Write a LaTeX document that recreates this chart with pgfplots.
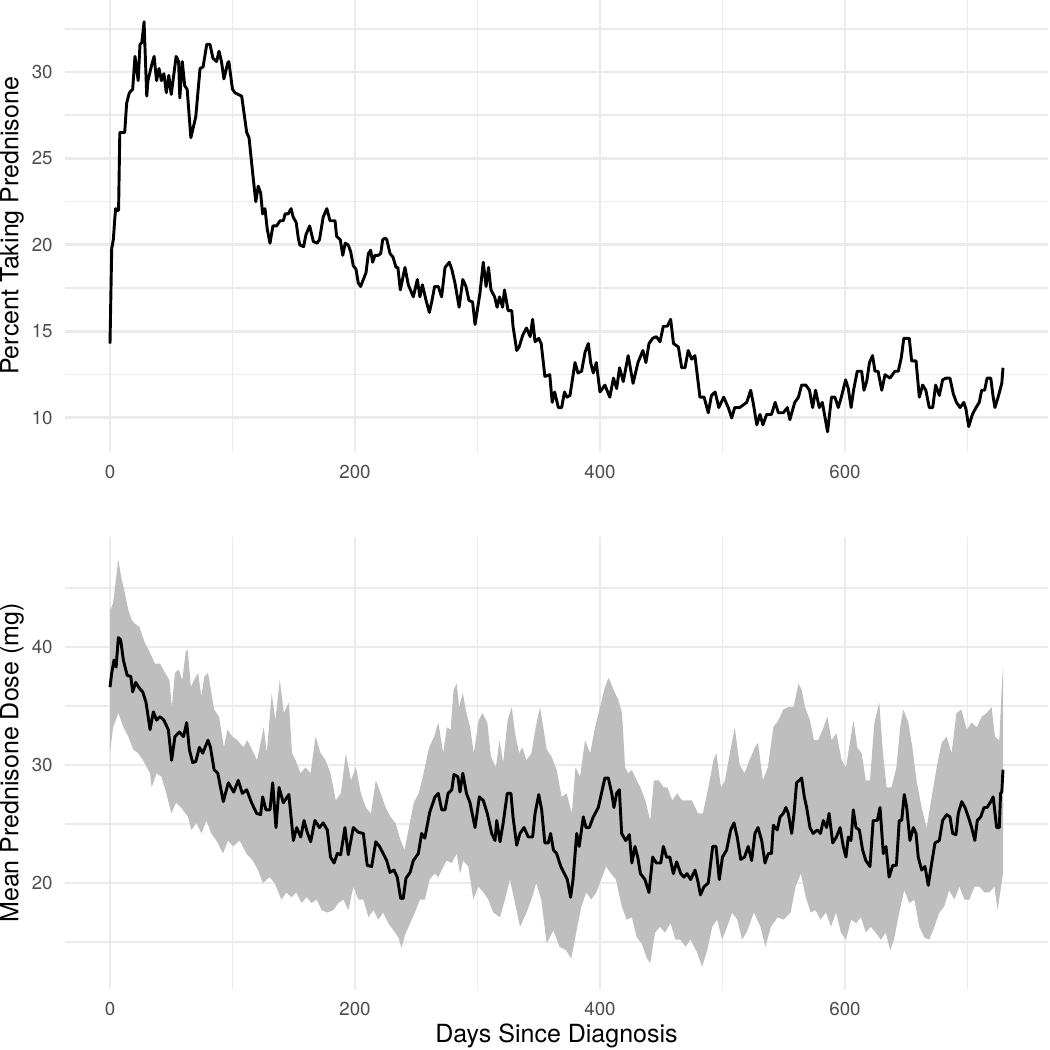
\documentclass[border=0pt]{standalone}
\usepackage{fontspec}
\setmainfont{TeX Gyre Heros}
\usepackage{pgfplots}
\pgfplotsset{compat=1.18}
\definecolor{gridc}{RGB}{235,235,235}
\definecolor{ticklab}{RGB}{77,77,77}
\definecolor{ribbon}{RGB}{190,190,190}

\pgfplotsset{
  panel/.style={
    scale only axis, width=471.5pt, height=216.96pt,
    xmin=-36.45, xmax=765.45,
    axis line style={draw=none}, major tick length=0pt, minor tick length=0pt,
    tick style={draw=none},
    xtick={0,200,400,600}, minor xtick={100,300,500,700},
    grid=both,
    major grid style={draw=gridc, line width=1.4pt},
    minor grid style={draw=gridc, line width=0.75pt},
    tick label style={font=\fontsize{9}{10}\selectfont, text=ticklab},
    /pgf/number format/assume math mode=true,
    /pgf/number format/1000 sep={},
    xticklabel style={anchor=center, yshift=-9.6pt, inner sep=0pt},
    yticklabel style={anchor=east, xshift=-5.9pt, inner sep=0pt},
    every axis y label/.style={at={(axis description cs:-0.0543,0.5)}, rotate=90, anchor=center, font=\fontsize{12}{14}\selectfont},
    every axis x label/.style={at={(axis description cs:0.5,-0.104)}, anchor=center, font=\fontsize{12}{14}\selectfont},
  }
}

\begin{document}
\begin{tikzpicture}

\begin{axis}[panel, at={(31.37pt,0pt)}, anchor=north west,
  ymin=8.03, ymax=34.16,
  ytick={10,15,20,25,30}, minor ytick={12.5,17.5,22.5,27.5,32.5},
  ylabel={Percent Taking Prednisone}]
\addplot[black, line width=1.4pt, line join=round] table {
0 14.3
1.4 19.8
2.7 20.3
4 21.6
4.6 22.1
6 22.0
7 22.0
8 26.5
12 26.5
13.6 28.2
15.8 28.8
18.5 29.0
20.4 30.9
23 29.5
24.5 31.6
26 31.7
27.8 32.9
30 28.6
31 29.5
34 30.4
36 30.9
38 29.5
40 30.2
42 29.5
44 29.9
46 28.8
48 29.8
50 28.7
54 30.9
56 30.6
57 28.5
59 30.6
61 29.2
63 29.0
66 26.2
70 27.4
72 29.0
73.5 30.2
76 30.3
79 31.6
81.6 31.6
84 30.8
87 30.6
89 31.2
91 30.6
93 29.6
96 30.5
97 30.6
100 29.0
102 28.8
107.5 28.6
111.6 26.5
113.5 26.2
117 23.8
119 22.5
121 23.4
123 23.0
124.6 21.8
126.5 22.1
128.4 20.9
130.6 20.1
133 21.1
136 21.1
138.8 21.4
141.5 21.4
143 21.8
145.5 21.8
147.8 22.1
149.6 21.6
152 21.3
153.7 20.4
155 20.0
158 19.9
160 20.6
163 21.1
166 20.2
169 20.1
171 20.3
174 21.6
177 22.1
179.6 21.4
183.7 21.4
185 20.5
188 20.3
190 19.4
192 20.1
194.5 20.0
196.5 19.6
198.6 18.8
200.8 18.6
202.7 17.8
204.6 17.6
206.8 18.0
209 18.4
210.9 19.5
212.8 19.7
214.4 19.0
216.3 19.4
219 19.4
221 19.5
222.6 20.3
224.5 20.4
226 20.3
228.6 19.5
231 19.3
233.5 18.7
235 18.7
237 17.4
240.8 18.7
243.5 17.7
247.6 17.0
250.9 18.0
253 17.0
255 17.7
258 16.8
260.7 16.1
262.6 16.7
265 17.6
268 17.6
270.7 17.0
273.5 18.7
277 19.0
279 18.6
281.6 17.8
285 16.4
288 18.0
290.6 17.6
293 16.8
296 16.7
298 15.4
302 17.2
304.7 19.0
307 17.6
309 18.7
311 17.4
314 17.0
316 16.4
318 17.0
320.5 16.4
322 17.4
325 16.2
328 16.2
329 15.3
332 13.9
334 14.1
337 14.8
340 15.2
343 14.7
345 15.7
347 14.4
350 14.6
352 14.3
355 12.4
359 12.5
361 10.9
363 11.5
366 10.6
368.7 10.6
371 11.5
373 11.2
375.5 11.3
379.6 13.2
382 12.6
385 12.7
387.8 13.8
390.5 14.3
392.4 13.2
394.5 12.6
397 13.2
400 11.5
404 11.9
408 11.2
411 12.3
413.6 11.7
416 12.9
419 12.1
423 13.6
427 12.0
431 13.2
435 13.9
437.5 13.2
440 14.3
443 14.6
446 14.7
449 14.4
451.7 15.3
455 15.3
457.7 15.7
460 14.3
464 14.1
466.7 12.9
469.4 12.9
472 13.9
474.8 13.4
477.5 13.6
481.6 11.2
485 11.2
488.4 10.3
491 11.3
494 11.5
497 10.6
501 11.2
504.7 10.6
507.5 10.0
510 10.6
514 10.6
519.8 10.9
523 11.6
525 10.9
528 9.6
530.6 10.2
533 9.6
536 10.2
540 10.2
543 10.9
545.6 10.3
549.6 10.3
553 10.6
555 9.9
559 10.9
562 11.2
564.6 11.9
568 11.9
571 11.6
573.6 10.6
576 11.6
579 10.6
581.5 10.9
585.8 9.2
589 11.2
591.8 11.2
594.5 10.6
597 11.2
600.5 12.2
602.7 11.7
605 10.6
607 11.6
610 12.7
613.6 12.7
615.5 11.6
617.7 12.1
620 13.2
622.5 13.6
624.5 12.7
627 12.7
630 11.6
632.7 12.5
636.7 12.3
640.8 12.7
643.5 12.7
646 13.5
648 14.6
652.5 14.6
654.4 13.3
658 13.3
660.7 11.2
663.4 11.9
666 11.6
668.8 10.6
671.6 10.6
674 11.9
677 11.3
679.7 12.2
682.4 12.3
685.7 12.3
688.4 11.4
691 10.9
694 10.6
697 10.9
698.8 10.5
701 9.5
704 10.2
707 10.6
709.6 10.9
711.6 11.6
714 11.6
716 12.3
719 12.3
721 11.2
722.4 10.6
725 11.2
728 12.0
729 12.9
};
\end{axis}

\begin{axis}[panel, at={(31.37pt,-257.76pt)}, anchor=north west,
  ymin=11.02, ymax=49.32,
  ytick={20,30,40}, minor ytick={15,25,35,45},
  ylabel={Mean Prednisone Dose (mg)},
  xlabel={Days Since Diagnosis}]
% ribbon: upper bound left to right, then lower bound right to left
\addplot[fill=ribbon, draw=none] table {
0 43.1
2.5 43.7
6.8 47.4
9.5 45.7
11 45.1
15 43.1
17.7 42.3
20 42.0
24 41.7
28.6 40.3
32.7 39.5
36.7 38.6
40.8 38.6
45 37.8
48.5 37.2
50.5 34.9
53 37.8
56 38.1
59 37.2
62 39.7
63.5 39.7
66 36.6
68.6 37.2
72 37.8
74.5 35.8
77 37.5
80 37.8
82 36.6
85 34.7
89 34.1
93 31.5
95.8 33.0
100 32.4
104 32.1
109 31.5
112 32.1
116 31.3
120 30.4
124 32.4
125.5 33.2
128 31.0
132 36.1
135 33.8
138.6 37.2
141.9 34.4
146 35.3
148.6 31.0
151.5 30.4
155.6 29.3
159.6 29.8
163.7 29.3
167.8 32.4
172 31.0
176 30.4
180 29.3
184.3 27.0
188.4 27.6
192.5 31.0
196.7 28.7
200.8 29.8
204.8 27.6
208.8 26.4
213 25.9
217 28.7
221 27.6
225 26.4
229 25.6
233 25.1
237.3 23.6
240.5 22.8
244 24.7
248 26.8
252 27.6
256 29.3
260.5 31.5
264.6 32.4
268 33.6
272 31.0
275 33.2
278 33.0
280.5 36.4
283 36.9
285 34.9
288 36.1
291 34.4
294 33.2
297 31.0
301 33.8
304 34.4
308 33.6
311 30.7
315 29.8
318 32.1
321 30.2
324.6 33.8
328 34.9
330.6 32.7
334 31.0
336.6 31.5
340 30.4
344 31.0
347.5 33.2
351 34.9
353.7 33.2
356.5 31.3
360.5 30.7
364.6 29.6
368.7 27.3
372.8 27.6
377 25.9
380 29.8
383.7 29.0
387.8 32.1
392 31.0
396 33.2
400 34.9
404 36.6
407 37.4
411 36.4
415 35.5
418 34.4
420.5 29.8
423 29.3
426 29.6
430 28.7
433 28.1
437 27.0
441 25.3
444 28.7
448 28.7
452 28.1
455 28.1
459 27.0
463 27.6
467 27.0
471 27.0
475 27.0
480 25.9
484 25.9
488.5 28.1
492.6 30.4
495 31.0
498.8 28.1
502 28.7
506 31.0
510 33.2
514 30.0
518 29.3
522 30.4
526.5 31.5
529 31.9
533 28.7
537 29.8
541.5 33.2
545.6 33.8
549.6 34.7
553.7 34.9
558 34.9
562 36.9
564.6 36.4
567.4 34.9
571.4 33.8
574.7 32.1
578 32.1
581.8 33.0
585.6 34.1
589 32.1
593 32.7
597.3 30.4
600.8 29.8
604 31.9
607 33.8
610 31.5
613.6 31.0
617 28.7
620.4 28.7
624 33.6
628 35.3
631 31.0
634 28.1
638 28.1
642 29.8
645 33.2
647.6 34.7
651.7 33.6
655 31.5
658.4 28.7
662.6 26.4
666.6 24.7
670.8 27.3
674.8 29.8
679 31.9
683 32.4
687 31.0
691 34.4
695 34.7
699.4 33.0
703.4 33.6
707.6 33.2
711.6 34.1
715.6 34.4
719.7 34.9
722.4 32.4
726 32.1
728 36.6
729 38.3
729 20.8
727 19.4
724.6 17.7
722 19.7
717.8 19.2
713.8 19.2
709.7 19.7
705.7 19.7
701.6 18.6
697.5 18.6
693.4 19.7
689.3 18.6
685 19.4
681 18.0
677 17.5
673 16.3
668.8 15.2
664.8 15.4
660.7 16.3
656.6 18.6
652.5 18.3
648.4 19.4
644.3 17.5
640 15.2
636.9 14.3
633.3 15.8
629.3 15.2
625 15.8
621 16.3
617 15.8
613 17.1
609 16.6
605 16.9
600.8 15.2
596.7 15.8
592.7 17.5
588.6 16.3
584.5 17.5
580 16.9
576 17.7
572 17.5
568 18.8
564 20.8
559.7 19.7
555.6 17.5
550 16.9
545 17.1
539.6 16.3
535 14.6
531 16.3
525.7 17.5
520 15.9
516 15.2
512 16.9
507.9 17.5
503.8 16.3
499.7 15.2
495.6 16.9
491.6 16.3
487.5 14.3
483.4 12.9
479.3 14.1
473.9 15.2
469.8 14.6
465.7 15.2
461.6 15.2
457.6 16.6
453 15.8
449 16.3
445 15.8
441 13.2
438 13.7
434 14.9
430 15.4
426 17.1
421.8 16.9
417.8 18.0
413 20.3
409 20.8
405 21.4
401 20.3
397 19.2
392.9 18.6
388.8 19.2
384.7 18.0
380.6 15.8
376.5 13.6
372.4 14.3
367 14.6
362 16.0
356.5 14.9
352 18.6
348 20.0
344 18.6
340 17.5
334.7 16.3
330.6 18.3
326.5 20.3
322.4 18.6
318.4 17.1
312.9 17.5
308.8 18.6
304.8 19.2
300.7 19.7
296.6 18.6
292.5 21.4
288.4 21.9
285.7 20.8
283 22.5
279 21.7
274.8 21.9
270.8 21.1
268 20.5
265 20.8
261 20.3
257 18.6
253 18.6
249 17.5
245 16.6
240.8 15.6
238 14.5
235.4 15.4
231.3 16.0
227.2 16.6
223 17.5
219 16.9
215 17.7
211 17.1
206.8 18.6
202.7 18.6
198.7 19.7
194.6 17.7
190.5 18.6
186.4 18.3
182.3 17.7
177.4 17.5
172.8 17.7
168.7 18.6
164.6 18.3
160.5 18.8
156.5 18.3
152 19.2
148 18.8
144 19.2
139.9 18.6
134.4 20.0
130.3 20.5
124.9 20.0
120.8 21.1
116.7 21.9
111.3 22.5
105.8 23.6
100.4 23.1
96.3 23.6
92.3 22.5
86.8 23.6
82.7 24.2
78.7 25.3
74.6 24.2
70.5 25.1
66.4 24.5
63.7 25.6
58 26.4
54 26.8
50 25.9
46 27.6
42 29.0
38 29.3
34 28.1
32.7 29.3
27 30.4
23 31.0
19 31.3
15 32.4
11 33.2
6.8 34.4
2.5 33.2
0 31.0
};
\addplot[black, line width=1.4pt, line join=round] table {
0 36.6
1.4 37.8
3.3 38.9
5 38.3
6.8 40.8
8.7 40.6
10.9 38.9
14 37.6
17 37.5
18.5 36.2
21 37.0
24 36.5
26.7 36.2
29.4 35.3
32.7 33.0
35.4 34.5
38 33.8
40.8 34.1
44 33.8
47.6 33.0
50.3 30.4
53 32.4
56.6 32.8
60 32.4
62.6 33.6
64.8 31.3
67.5 30.2
70 30.3
73 31.5
75.7 31.0
77.6 31.5
80 32.1
82 31.5
85 29.6
88 29.3
92.5 26.9
96.6 28.5
101 27.7
104.7 28.7
108 27.6
111.6 27.9
115.6 26.8
119.7 25.9
123 25.8
124.6 27.3
127.3 26.2
130.6 26.2
132.8 28.5
135.5 24.7
138 28.1
141.5 26.8
146 27.5
149.7 23.6
152.4 24.7
155.7 23.9
158.4 25.3
161 24.3
163.8 23.5
167.3 25.3
171 24.7
174 25.1
177.4 24.5
180 22.2
182.9 21.7
185.6 22.5
188.3 22.4
191.8 24.7
194.5 22.4
198.6 24.7
202.7 24.3
206.8 24.2
210 21.5
213.6 21.4
217 23.5
220 23.1
223 22.5
225.9 21.9
228.6 20.9
231.8 21.1
234.5 20.5
237.3 18.7
239.4 18.7
241.6 20.4
245 20.9
247.6 21.9
251.7 22.5
254.4 24.2
257 23.8
261 26.0
265.3 27.3
268 27.6
270.8 26.2
273.5 26.2
276 27.6
279 27.9
280.8 29.2
284 29.0
285.7 27.7
288 29.3
291 27.6
293.9 26.8
298 24.7
301.5 27.3
304.7 27.0
308 25.9
311.6 24.2
314.3 23.6
315.7 25.3
318.4 23.5
321 25.1
324.3 27.6
327.3 27.6
329 25.6
332 23.2
334.7 24.2
338 24.7
341.5 23.9
345 23.9
347 25.9
350 27.5
352.4 26.2
355 23.4
357.8 23.4
359.7 24.2
362 22.8
364.6 22.5
368 21.4
370.9 20.8
373.3 20.3
376 18.8
378 20.3
381 24.2
383 23.1
386.4 25.6
388.6 24.7
391.3 24.7
394.5 25.6
398.6 26.4
401.4 27.7
404 28.9
406.8 28.9
409.6 27.6
411.4 26.4
413.6 27.6
415.8 27.9
417.7 24.2
421 23.6
424 24.1
426 21.7
428.6 23.1
431 22.1
433 20.8
436.7 20.3
440 19.2
443 22.2
446 21.7
449.6 21.7
451.7 23.1
454.4 22.2
457 22.2
459.9 20.8
462.6 21.8
465.9 20.8
468.6 20.5
471 20.8
474 20.3
477.6 21.1
480 20.1
482 19.0
485 19.7
488.4 20.0
492 23.1
494.7 23.1
497.4 20.3
500 22.2
503.4 22.8
506.7 24.5
509.4 25.1
512 23.9
514.9 22.0
518 22.2
521 23.1
523.8 21.9
526.5 24.2
529 24.7
532 23.6
534.7 21.7
537.4 22.5
540 22.5
541.5 24.9
544.7 24.5
547 25.6
549.6 25.9
551.8 26.4
553.7 25.9
556.5 24.2
558.4 25.9
560.5 28.5
562.7 28.7
564.6 28.9
566.8 27.3
568.7 26.4
571.4 24.7
574 24.2
577.4 24.5
580 24.2
582.3 25.3
585 24.7
587 25.9
590 23.4
593 23.9
596 24.7
598.6 23.1
600.8 22.2
602.7 23.9
604.9 23.6
606.8 26.2
609 24.7
611.7 24.5
614.4 22.8
617 21.9
620.4 21.4
623 25.3
626.4 25.3
628.6 26.4
631.3 22.5
633.5 23.1
636 20.5
639 21.5
642 21.5
644.3 25.3
646.3 25.3
648.4 27.5
650.4 26.4
653 23.6
655.8 24.7
658 24.2
659.8 22.2
662.6 21.1
665.3 21.4
668 19.8
670.8 21.7
673.5 23.4
677 23.6
679.7 25.3
683 25.8
685.7 25.6
687.9 24.2
690.6 24.1
692.5 25.9
695.3 26.9
698 26.4
700.7 25.6
703.4 24.7
706 23.6
708 25.3
710.8 25.6
713.5 26.4
716 26.4
719 26.9
721 27.3
723.8 24.7
726 24.7
727 27.6
728 27.7
729 29.6
};
\end{axis}
\pgfresetboundingbox
\path[use as bounding box] (0,0) rectangle (504pt,-504pt);
\end{tikzpicture}
\end{document}
